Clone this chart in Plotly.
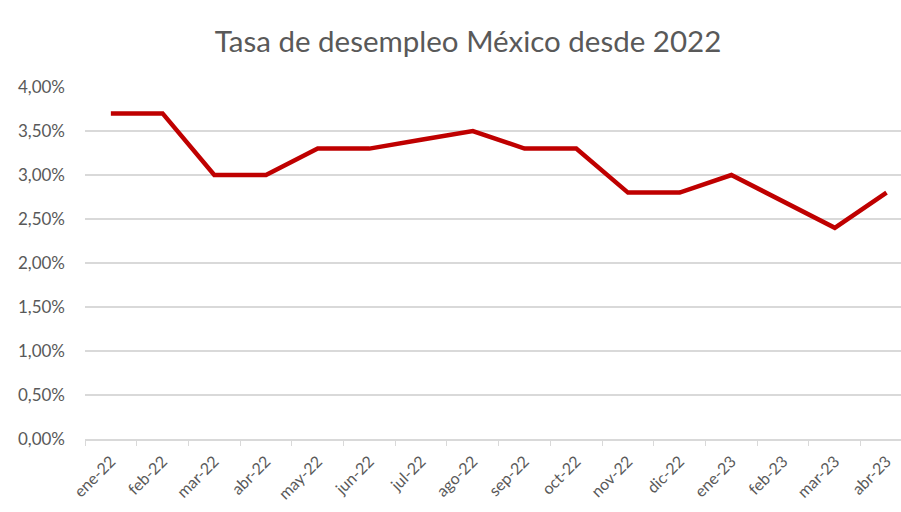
import plotly.graph_objects as go

# Monthly unemployment rate in Mexico (%)
meses = ["ene-22", "feb-22", "mar-22", "abr-22", "may-22", "jun-22", "jul-22", "ago-22",
         "sep-22", "oct-22", "nov-22", "dic-22", "ene-23", "feb-23", "mar-23", "abr-23"]
tasa = [3.7, 3.7, 3.0, 3.0, 3.3, 3.3, 3.4, 3.5, 3.3, 3.3, 2.8, 2.8, 3.0, 2.7, 2.4, 2.8]

y_ticks = [0.0, 0.5, 1.0, 1.5, 2.0, 2.5, 3.0, 3.5, 4.0]
y_labels = [f"{v:.2f}%".replace(".", ",") for v in y_ticks]

FONT = "Lato, Carlito, 'Liberation Sans', sans-serif"
GREY = "#595959"
GRID = "#d9d9d9"

fig = go.Figure(
    go.Scatter(
        x=meses,
        y=tasa,
        mode="lines",
        line=dict(color="#bf0000", width=4.5),
        hoverinfo="skip",
    )
)

fig.update_layout(
    width=901,
    height=512,
    paper_bgcolor="white",
    plot_bgcolor="white",
    margin=dict(l=85, r=0, t=87, b=73, autoexpand=False),
    showlegend=False,
    title=dict(
        text="Tasa de desempleo México desde 2022",
        x=468 / 901,
        xanchor="center",
        y=1 - 42 / 512,
        yanchor="middle",
        font=dict(family=FONT, size=29.5, color=GREY),
    ),
    font=dict(family=FONT, color=GREY),
)

fig.update_xaxes(
    type="category",
    categoryorder="array",
    categoryarray=meses,
    tickangle=-45,
    range=[-0.5, 15.28],
    showgrid=False,
    showline=True,
    linecolor=GRID,
    linewidth=1.5,
    ticks="outside",
    tickson="boundaries",
    ticklen=5,
    tickcolor=GRID,
    ticklabelstandoff=5,
    tickfont=dict(family=FONT, size=16, color=GREY),
    zeroline=False,
)

fig.update_yaxes(
    range=[0, 4.0],
    tickmode="array",
    tickvals=y_ticks,
    ticktext=y_labels,
    showgrid=True,
    gridcolor=GRID,
    gridwidth=1.5,
    zeroline=False,
    showline=False,
    ticks="",
    ticklabelstandoff=19,
    tickfont=dict(family=FONT, size=17, color=GREY),
)

fig.write_html("out.html")
